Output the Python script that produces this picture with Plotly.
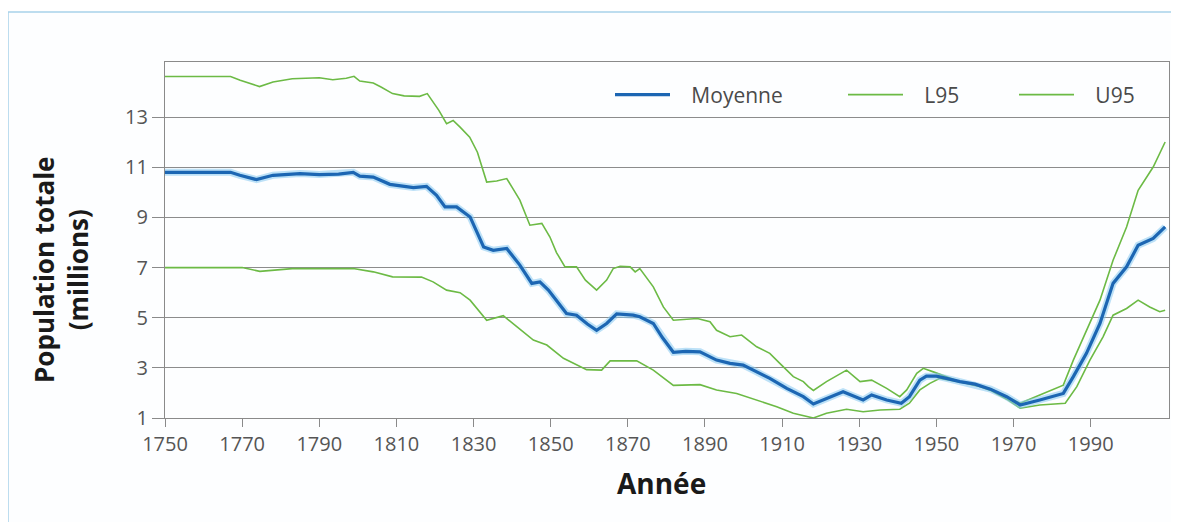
import plotly.graph_objects as go

# ---- data ----
years_moyenne = [1750, 1767, 1769.4, 1773.7, 1778, 1785, 1790, 1795, 1798.8, 1800.5, 1804, 1808.3,
                 1814.4, 1817.8, 1820.4, 1822.6, 1825.6, 1829.1, 1832.6, 1835.1, 1838.6, 1842,
                 1845.1, 1847.2, 1849.4, 1854.1, 1856.7, 1859.5, 1861.9, 1864.5, 1867.1, 1871.4,
                 1873.1, 1876.6, 1879, 1881.8, 1885, 1888.7, 1893, 1896.5, 1899.9, 1903.4, 1906.8,
                 1911.2, 1915.5, 1918.1, 1921.5, 1925.8, 1931, 1933.2, 1937.1, 1940.9, 1943, 1945.7,
                 1947.4, 1950, 1952.6, 1956.1, 1960, 1964, 1968.2, 1971.7, 1976.8, 1982.9, 1985.5,
                 1988.9, 1992.4, 1995.8, 1999.3, 2002.3, 2006.2, 2009.3]
moyenne = [10.8, 10.8, 10.68, 10.51, 10.68, 10.75, 10.71, 10.73, 10.8, 10.65, 10.61, 10.32,
           10.19, 10.24, 9.88, 9.42, 9.42, 9.02, 7.82, 7.69, 7.76, 7.1,
           6.37, 6.43, 6.1, 5.17, 5.1, 4.75, 4.5, 4.77, 5.15, 5.1,
           5.04, 4.77, 4.2, 3.62, 3.66, 3.64, 3.31, 3.18, 3.11, 2.84, 2.58,
           2.18, 1.85, 1.56, 1.78, 2.05, 1.72, 1.92, 1.72, 1.59, 1.85, 2.51,
           2.67, 2.67, 2.58, 2.45, 2.35, 2.15, 1.85, 1.52, 1.72, 1.98, 2.65,
           3.58, 4.77, 6.37, 7.03, 7.89, 8.16, 8.62]

years_l95 = [1750, 1770, 1774.6, 1783, 1798.8, 1804, 1809, 1816.5, 1819.5, 1823, 1826.5, 1829.1,
             1833.4, 1837.7, 1841.2, 1845.5, 1849, 1853.3, 1859.3, 1863.2, 1865.4, 1872.3, 1876.6,
             1881.8, 1888.7, 1893, 1898.2, 1903.4, 1908.6, 1912.9, 1916.3, 1918.1, 1921.5, 1926.7,
             1931, 1935.4, 1940.5, 1943, 1945.7, 1948.3, 1950.9, 1956.1, 1960, 1964, 1968.2, 1971.7,
             1976.8, 1983.4, 1986.4, 1989.8, 1993.2, 1995.8, 1999.3, 2002.3, 2005.3, 2007.9, 2009.3]
l95 = [7.0, 7.0, 6.85, 6.96, 6.96, 6.83, 6.63, 6.62, 6.43, 6.1, 6.0, 5.7,
       4.9, 5.08, 4.64, 4.11, 3.91, 3.38, 2.93, 2.91, 3.28, 3.28, 2.91,
       2.3, 2.33, 2.12, 1.98, 1.72, 1.45, 1.19, 1.05, 1.0, 1.19, 1.35,
       1.25, 1.32, 1.35, 1.59, 2.12, 2.38, 2.58, 2.45, 2.33, 2.1, 1.75, 1.39,
       1.52, 1.59, 2.25, 3.31, 4.24, 5.1, 5.37, 5.7, 5.43, 5.24, 5.3]

years_u95 = [1750, 1767, 1769.5, 1772, 1774.5, 1778, 1783, 1790, 1793.5, 1797, 1799, 1800.5,
             1804, 1806, 1809, 1812, 1816, 1818, 1821, 1823, 1824.7, 1826.5, 1829, 1831,
             1833.4, 1836, 1838.6, 1840, 1842, 1844.6, 1847.7, 1849.8, 1851.5, 1853.7, 1856.7,
             1859, 1861.9, 1864.5, 1866.2, 1868, 1870.6, 1871.9, 1873.1, 1876.6, 1879.2, 1881.8,
             1885.2, 1888, 1891.3, 1893, 1896.5, 1899.5, 1903.4, 1906.8, 1909.4, 1912.9, 1915.5,
             1916.8, 1918.1, 1921.5, 1926.7, 1930.2, 1933.2, 1937.1, 1940.5, 1942.3, 1944.9,
             1946.6, 1949.2, 1952.6, 1956.1, 1959.6, 1963.9, 1968.2, 1971.7, 1976.8, 1982.9,
             1985.5, 1988.9, 1992.4, 1995.8, 1999.3, 2002.3, 2006.2, 2009.3]
u95 = [14.62, 14.62, 14.47, 14.35, 14.22, 14.4, 14.53, 14.57, 14.49, 14.55, 14.63, 14.44,
       14.36, 14.2, 13.94, 13.85, 13.83, 13.94, 13.27, 12.74, 12.87, 12.6, 12.2, 11.6,
       10.41, 10.45, 10.55, 10.2, 9.69, 8.69, 8.76, 8.22, 7.6, 7.03, 7.03,
       6.5, 6.1, 6.5, 6.96, 7.05, 7.03, 6.83, 6.96, 6.23, 5.43, 4.9,
       4.95, 4.97, 4.84, 4.5, 4.24, 4.31, 3.84, 3.58, 3.18, 2.65, 2.45,
       2.25, 2.1, 2.45, 2.91, 2.45, 2.51, 2.18, 1.85, 2.12, 2.78,
       2.98, 2.84, 2.65, 2.45, 2.31, 2.18, 1.85, 1.59, 1.92, 2.31,
       3.31, 4.51, 5.7, 7.29, 8.62, 10.08, 11.01, 12.01]

x_ticks = [1750, 1770, 1790, 1810, 1830, 1850, 1870, 1890, 1910, 1930, 1950, 1970, 1990]
y_ticks = [1, 3, 5, 7, 9, 11, 13]

GREEN = "#6cba45"
BLUE = "#1c66b3"
HALO = "rgba(135,200,240,0.55)"
FONT = "Open Sans"
SP = "\u00a0\u00a0\u00a0"

fig = go.Figure()
fig.add_trace(go.Scatter(x=years_l95, y=l95, mode="lines", name=SP + "L95",
                         line=dict(color=GREEN, width=1.6), legend="legend2"))
fig.add_trace(go.Scatter(x=years_u95, y=u95, mode="lines", name=SP + "U95",
                         line=dict(color=GREEN, width=1.6), legend="legend3"))
fig.add_trace(go.Scatter(x=years_moyenne, y=moyenne, mode="lines", showlegend=False,
                         hoverinfo="skip", line=dict(color=HALO, width=7)))
fig.add_trace(go.Scatter(x=years_moyenne, y=moyenne, mode="lines", name=SP + "Moyenne",
                         line=dict(color=BLUE, width=3.2), legend="legend"))

# page body has an 8px margin: work in figure pixels (screen minus 8)
OFF = 8
W, H = 1171, 514
L, R, T, B = 157, 10, 54, 104
pw, ph = W - L - R, H - T - B

def px(xs):
    return (xs - OFF - L) / pw

def py(ys):
    return (H - B - (ys - OFF)) / ph

leg_common = dict(orientation="h", yanchor="middle", y=py(95), xanchor="left",
                  font=dict(family=FONT, size=21, color="#4a4a4a"),
                  bgcolor="rgba(0,0,0,0)", itemwidth=55)

TICKF = dict(family=FONT, size=20, color="#555555")

fig.update_layout(
    width=W, height=H,
    margin=dict(l=L, r=R, t=T, b=B),
    paper_bgcolor="white", plot_bgcolor="white",
    font=dict(family=FONT, size=20, color="#555555"),
    legend=dict(leg_common, x=px(610)),
    legend2=dict(leg_common, x=px(843)),
    legend3=dict(leg_common, x=px(1014)),
    xaxis=dict(range=[1750, 2010.3], tickvals=x_ticks, ticks="outside", ticklen=8,
               tickcolor="#8a8a8a", showgrid=False, showline=True, linecolor="#8a8a8a",
               linewidth=1.3, mirror=True, zeroline=False, tickfont=TICKF),
    yaxis=dict(range=[1, 15.2], tickvals=y_ticks, ticks="outside", ticklen=12,
               tickcolor="#8a8a8a", showgrid=True, gridcolor="#8c8c8c", gridwidth=1.3,
               showline=True, linecolor="#8a8a8a", linewidth=1.3, mirror=True,
               zeroline=False, tickfont=TICKF),
    shapes=[dict(type="rect", xref="paper", yref="paper", layer="below",
                 x0=px(8), x1=px(1177), y0=py(540), y1=py(12),
                 line=dict(color="#a8d2ea", width=1.5), fillcolor="#fdfeff")],
    annotations=[
        dict(text="<b>Population totale</b><br><b>(millions)</b>", textangle=-90,
             xref="paper", yref="paper", x=px(61), y=py(270), showarrow=False,
             xanchor="center", yanchor="middle",
             font=dict(family=FONT, size=26, color="#1a1a1a")),
        dict(text="<b>Année</b>", xref="paper", yref="paper", x=px(661), y=py(483),
             showarrow=False, xanchor="center", yanchor="middle",
             font=dict(family=FONT, size=28, color="#1a1a1a")),
    ],
)

fig.write_html("out.html")
